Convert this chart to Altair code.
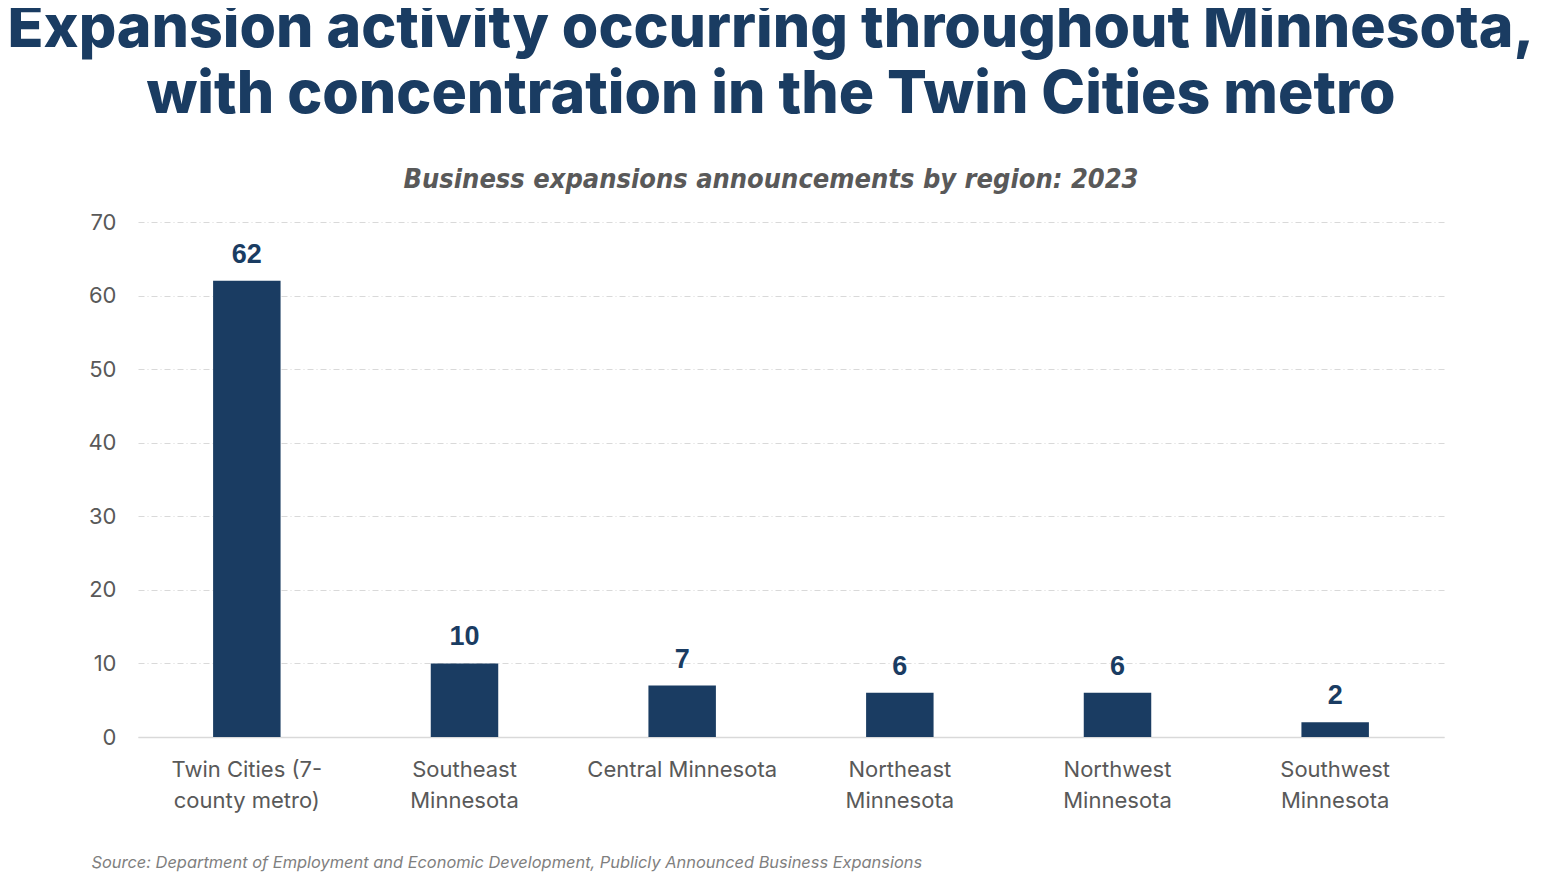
import altair as alt
import pandas as pd

regions = ["Twin Cities (7-|county metro)", "Southeast|Minnesota", "Central Minnesota",
           "Northeast|Minnesota", "Northwest|Minnesota", "Southwest|Minnesota"]
counts = [62, 10, 7, 6, 6, 2]
y_ticks = [0, 10, 20, 30, 40, 50, 60, 70]

df = pd.DataFrame({"region": regions, "count": counts})

NAVY = "#1a3c62"
GRAY = "#595959"

x = alt.X("region:N", sort=regions,
          scale=alt.Scale(paddingInner=0.69, paddingOuter=0.345),
          axis=alt.Axis(labelExpr="split(datum.label, '|')", labelAngle=0,
                        labelFont="Inter", labelFontSize=22, labelColor=GRAY,
                        labelPadding=22, labelLineHeight=31, labelLimit=400, ticks=False,
                        domain=True, domainColor="#d9d9d9", domainWidth=1.5,
                        title="Source: Department of Employment and Economic Development, Publicly Announced Business Expansions",
                        titleFont="Inter", titleFontSize=16.4, titleFontStyle="italic",
                        titleFontWeight="normal", titleColor="#7f7f7f",
                        titleAnchor="start", titleAlign="left", titleBaseline="middle",
                        titleX=-47, titleY=125))
y = alt.Y("count:Q", scale=alt.Scale(domain=[0, 70], nice=False),
          axis=alt.Axis(values=y_ticks, title=None, labelFont="Inter",
                        labelFontSize=22, labelColor=GRAY, labelPadding=22,
                        ticks=False, domain=False, grid=True,
                        gridColor="#d9d9d9", gridDash=[6, 3, 1, 3], gridWidth=1))

bars = alt.Chart(df).mark_bar(color=NAVY).encode(x=x, y=y)
labels = alt.Chart(df).mark_text(font="Liberation Sans", fontSize=27, fontWeight="bold",
                                 color=NAVY, baseline="bottom", dy=-12).encode(
    x=alt.X("region:N", sort=regions), y="count:Q", text="count:Q")

chart = (bars + labels).properties(
    width=1306, height=515,
    background="white",
    autosize=alt.AutoSizeParams(type="none"),
    padding={"left": 130, "top": 214, "right": 89, "bottom": 136},
    title=alt.TitleParams(
        text=["Expansion activity occurring throughout Minnesota,",
              "with concentration in the Twin Cities metro"],
        subtitle="Business expansions announcements by region: 2023",
        anchor="middle", dx=-20, offset=18,
        font="Inter", fontSize=59, fontWeight=800, color=NAVY, lineHeight=66,
        subtitleFont="'DejaVu Sans Condensed', Roboto", subtitleFontSize=27,
        subtitleFontStyle="italic", subtitleFontWeight="bold",
        subtitleColor=GRAY, subtitlePadding=42),
).configure_view(strokeWidth=0)

chart.save("out.html", embed_options={"renderer": "svg", "actions": False})
